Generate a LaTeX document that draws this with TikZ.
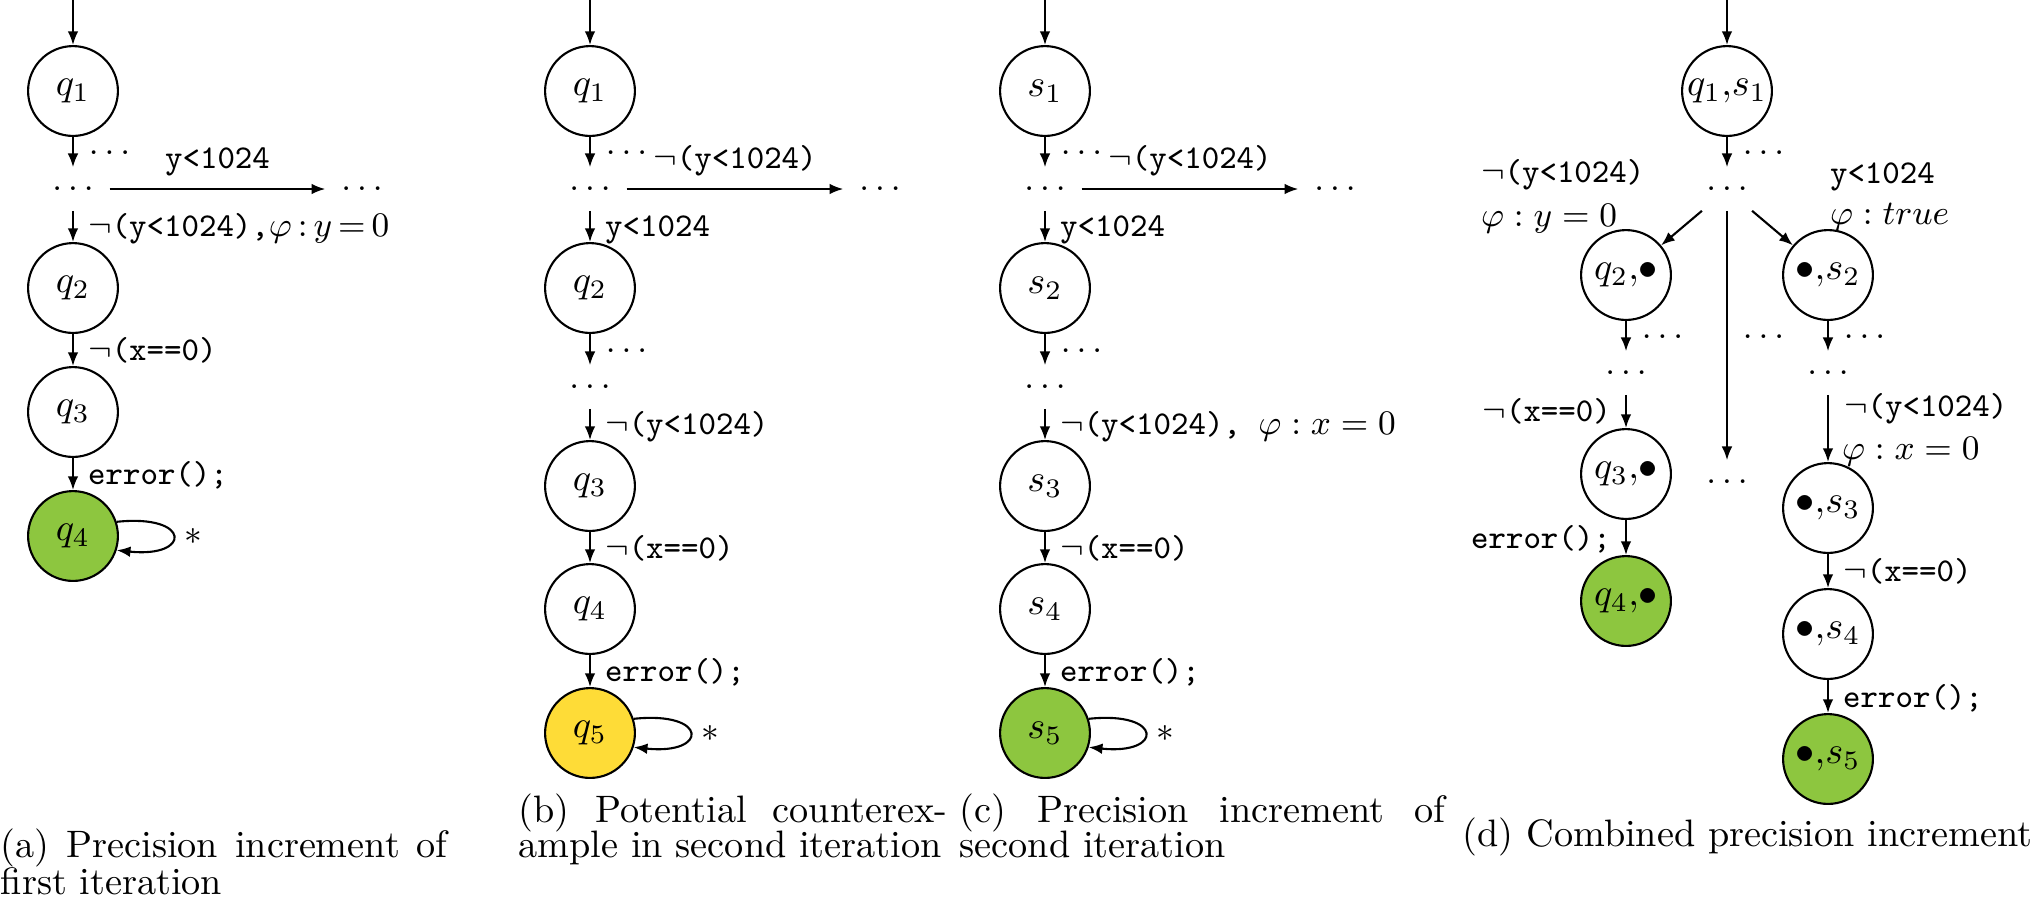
\documentclass[tikz,border=0pt]{standalone}
\usetikzlibrary{arrows.meta}
\definecolor{accgreen}{RGB}{141,198,63}
\definecolor{accyellow}{RGB}{254,220,55}
\newcommand{\lblfont}{\fontsize{8.7}{10.4}\selectfont}
\begin{document}
\begin{tikzpicture}[x=0.2616pt,y=-0.2616pt,
  statebox/.style={circle,draw,line width=0.55pt,minimum size=23.5pt,inner sep=0pt,font=\fontsize{10}{12}\selectfont},
  finbox/.style={statebox,fill=accgreen},
  potbox/.style={statebox,fill=accyellow},
  dotsnode/.style={inner sep=0pt,minimum width=18.8pt,minimum height=11pt,font=\lblfont},
  arr/.style={line width=0.55pt,-{Latex[length=3.6pt,width=2.8pt]}},
  lbl/.style={font=\lblfont,inner xsep=3.7pt,inner ysep=0pt,text height=7.5pt,text depth=2pt},
  sdots/.style={font=\lblfont,inner xsep=3.9pt,inner ysep=0pt,text height=1.5pt,text depth=0pt},
  toplbl/.style={font=\lblfont,inner xsep=0pt,inner ysep=3pt,text height=7.5pt,text depth=2pt},
  freelbl/.style={font=\lblfont,inner sep=0pt,anchor=base west},
  starlbl/.style={font=\lblfont,inner sep=0pt,anchor=west,xshift=2.8pt},
  captext/.style={font=\fontsize{10}{10.5}\selectfont,inner sep=0pt,anchor=base west}
]
\useasboundingbox (0,0) rectangle (2032,897);

% ---------------- (a)
\coordinate (a0) at (73,0);
\node[statebox] (a1) at (73,91) {$q_1$};
\node[dotsnode] (ad) at (73,189) {$\dots$};
\node[dotsnode] (adr) at (362,189) {$\dots$};
\node[statebox] (a2) at (73,288) {$q_2$};
\node[statebox] (a3) at (73,412) {$q_3$};
\node[finbox] (a4) at (73,536) {$q_4$};
\draw[arr] (a0) -- (a1);
\draw[arr] (a1) -- node[sdots,right]{$\dots$} (ad);
\draw[arr] (ad) -- node[toplbl,above]{\texttt{y<1024}} (adr);
\draw[arr] (ad) -- node[lbl,right]{$\neg$\texttt{(y<1024),}$\varphi\mskip3mu{:}\mskip3mu y\mskip3mu{=}\mskip3mu 0$} (a2);
\draw[arr] (a2) -- node[lbl,right]{$\neg$\texttt{(x==0)}} (a3);
\draw[arr] (a3) -- node[lbl,right]{\texttt{error();}} (a4);
\draw[arr] (a4.18) .. controls +(75,-8) and +(75,8) .. node[starlbl]{$*$} (a4.-18);

% ---------------- (b)
\coordinate (b0) at (590,0);
\node[statebox] (b1) at (590,91) {$q_1$};
\node[dotsnode] (bd) at (590,189) {$\dots$};
\node[dotsnode] (bdr) at (880,189) {$\dots$};
\node[statebox] (b2) at (590,288) {$q_2$};
\node[dotsnode] (bd2) at (590,387) {$\dots$};
\node[statebox] (b3) at (590,486) {$q_3$};
\node[statebox] (b4) at (590,609) {$q_4$};
\node[potbox] (b5) at (590,733) {$q_5$};
\draw[arr] (b0) -- (b1);
\draw[arr] (b1) -- node[sdots,right]{$\dots$} (bd);
\draw[arr] (bd) -- node[toplbl,above]{$\neg$\texttt{(y<1024)}} (bdr);
\draw[arr] (bd) -- node[lbl,right]{\texttt{y<1024}} (b2);
\draw[arr] (b2) -- node[sdots,right]{$\dots$} (bd2);
\draw[arr] (bd2) -- node[lbl,right]{$\neg$\texttt{(y<1024)}} (b3);
\draw[arr] (b3) -- node[lbl,right]{$\neg$\texttt{(x==0)}} (b4);
\draw[arr] (b4) -- node[lbl,right]{\texttt{error();}} (b5);
\draw[arr] (b5.18) .. controls +(75,-8) and +(75,8) .. node[starlbl]{$*$} (b5.-18);

% ---------------- (c)
\coordinate (c0) at (1045,0);
\node[statebox] (c1) at (1045,91) {$s_1$};
\node[dotsnode] (cd) at (1045,189) {$\dots$};
\node[dotsnode] (cdr) at (1335,189) {$\dots$};
\node[statebox] (c2) at (1045,288) {$s_2$};
\node[dotsnode] (cd2) at (1045,387) {$\dots$};
\node[statebox] (c3) at (1045,486) {$s_3$};
\node[statebox] (c4) at (1045,609) {$s_4$};
\node[finbox] (c5) at (1045,733) {$s_5$};
\draw[arr] (c0) -- (c1);
\draw[arr] (c1) -- node[sdots,right]{$\dots$} (cd);
\draw[arr] (cd) -- node[toplbl,above]{$\neg$\texttt{(y<1024)}} (cdr);
\draw[arr] (cd) -- node[lbl,right]{\texttt{y<1024}} (c2);
\draw[arr] (c2) -- node[sdots,right]{$\dots$} (cd2);
\draw[arr] (cd2) -- node[lbl,right]{$\neg$\texttt{(y<1024),\ }$\varphi : x = 0$} (c3);
\draw[arr] (c3) -- node[lbl,right]{$\neg$\texttt{(x==0)}} (c4);
\draw[arr] (c4) -- node[lbl,right]{\texttt{error();}} (c5);
\draw[arr] (c5.18) .. controls +(75,-8) and +(75,8) .. node[starlbl]{$*$} (c5.-18);

% ---------------- (d)
\coordinate (d0) at (1727,0);
\node[statebox] (d1) at (1727,91) {$q_1{,}s_1$};
\node[dotsnode] (dd) at (1727,189) {$\dots$};
\node[statebox] (d2) at (1626,275) {$q_2{,}\bullet$};
\node[statebox] (e2) at (1828,275) {$\bullet{,}s_2$};
\node[dotsnode] (ddl) at (1626,373) {$\dots$};
\node[dotsnode] (dde) at (1828,373) {$\dots$};
\node[dotsnode] (mdots) at (1727,482) {$\dots$};
\node[statebox] (d3) at (1626,474) {$q_3{,}\bullet$};
\node[finbox] (d4) at (1626,601) {$q_4{,}\bullet$};
\node[statebox] (e3) at (1828,508) {$\bullet{,}s_3$};
\node[statebox] (e4) at (1828,634) {$\bullet{,}s_4$};
\node[finbox] (e5) at (1828,759) {$\bullet{,}s_5$};
\draw[arr] (d0) -- (d1);
\draw[arr] (d1) -- node[sdots,right]{$\dots$} (dd);
\draw[arr] (dd.221) -- (d2)
  node[freelbl] (dl1) at (1480,182) {$\neg$\texttt{(y<1024)}}
  node[freelbl] (dl2) at (1480,226) {$\varphi : y = 0$};
\draw[arr] (dd.south) -- node[sdots,right]{$\dots$} (mdots);
\draw[arr] (dd.-41) -- (e2)
  node[freelbl] (dr1) at (1829,183) {\texttt{y<1024}}
  node[freelbl] (dr2) at (1829,224) {$\varphi : true$};
\draw[arr] (d2) -- node[sdots,right]{$\dots$} (ddl);
\draw[arr] (ddl) -- node[lbl,left]{$\neg$\texttt{(x==0)}} (d3);
\draw[arr] (d3) -- node[lbl,left]{\texttt{error();}} (d4);
\draw[arr] (e2) -- node[sdots,right]{$\dots$} (dde);
\draw[arr] (dde) -- (e3)
  node[freelbl] (er1) at (1843,416) {$\neg$\texttt{(y<1024)}}
  node[freelbl] (er2) at (1841,459) {$\varphi : x = 0$};
\draw[arr] (e3) -- node[lbl,right]{$\neg$\texttt{(x==0)}} (e4);
\draw[arr] (e4) -- node[lbl,right]{\texttt{error();}} (e5);

% ---------------- captions
\node[captext] (capa1) at (0,857) {\makebox[116.9pt][s]{(a) Precision increment of}};
\node[captext] (capa2) at (0,894) {first iteration};
\node[captext] (capb1) at (518,822) {\makebox[112pt][s]{(b) Potential counterex-}};
\node[captext] (capb2) at (518,857) {ample in second iteration};
\node[captext] (capc1) at (959,822) {\makebox[127.1pt][s]{(c) Precision increment of}};
\node[captext] (capc2) at (959,857) {second iteration};
\node[captext] (capd) at (1462,846) {(d) Combined precision increment};
\end{tikzpicture}
\end{document}
